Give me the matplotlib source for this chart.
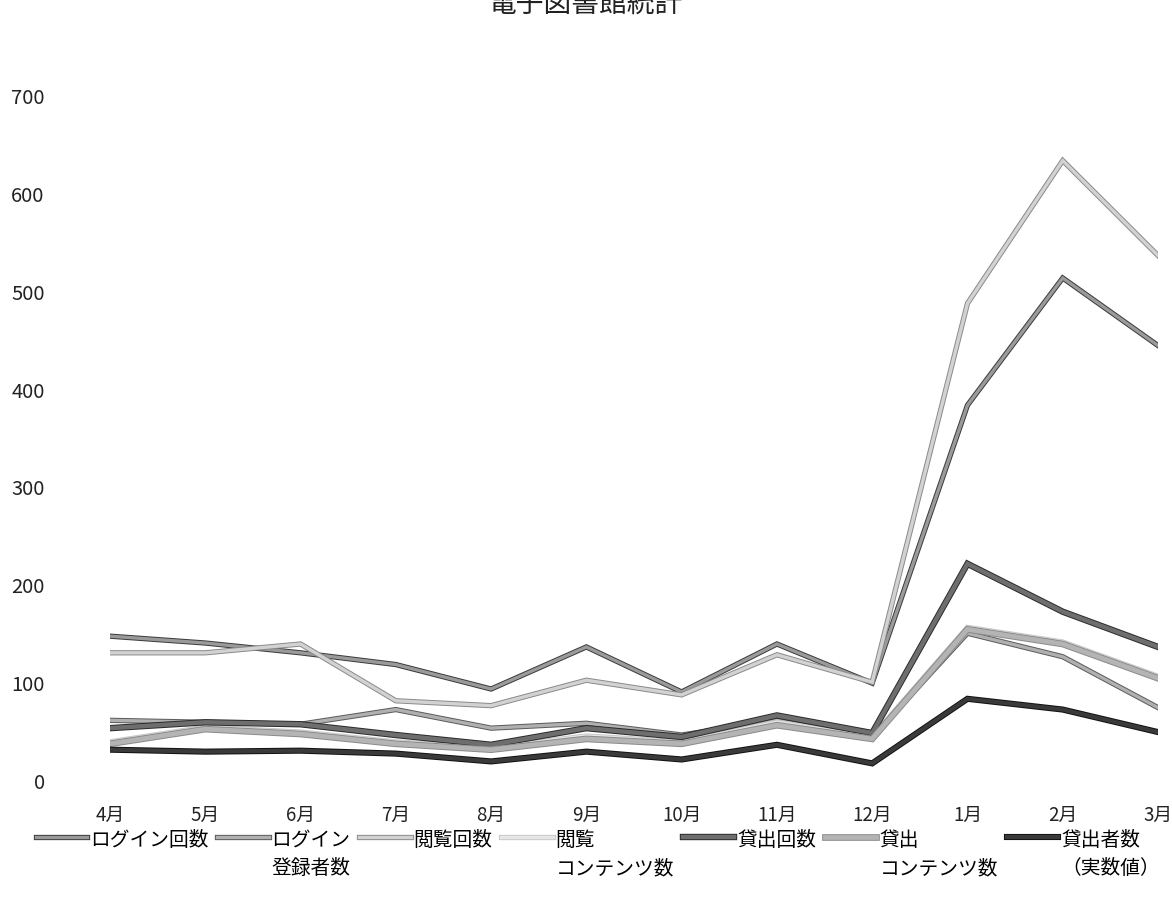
import matplotlib
matplotlib.use("Agg")
import matplotlib.pyplot as plt
import matplotlib.patheffects as pe

plt.rcParams['font.family'] = ['Noto Sans CJK JP', 'DejaVu Sans']

months = ['4月', '5月', '6月', '7月', '8月', '9月', '10月', '11月', '12月', '1月', '2月', '3月']
series_names = ['ログイン回数', 'ログイン\n登録者数', '閲覧回数', '閲覧\nコンテンツ数',
                '貸出回数', '貸出\nコンテンツ数', '貸出者数\n（実数値）']

login_count = [148, 141, 131, 119, 94, 137, 91, 140, 100, 384, 514, 445]
login_users = [62, 60, 58, 73, 54, 59, 47, 62, 45, 151, 127, 75]
view_count = [131, 131, 140, 82, 77, 103, 88, 129, 101, 488, 634, 537]
view_contents = [40, 55, 50, 40, 34, 46, 40, 60, 45, 157, 142, 107]
loan_count = [54, 60, 58, 47, 37, 54, 45, 67, 49, 222, 173, 137]
loan_contents = [38, 53, 48, 38, 32, 43, 38, 57, 43, 155, 140, 105]
borrowers = [32, 30, 31, 28, 20, 30, 22, 37, 18, 84, 73, 50]

yticks = [0, 100, 200, 300, 400, 500, 600, 700]

all_series = [login_count, login_users, view_count, view_contents,
              loan_count, loan_contents, borrowers]
styles = [
    dict(color='#9a9a9a', lw=2.4, edge='#3a3a3a'),
    dict(color='#b0b0b0', lw=2.4, edge='#5a5a5a'),
    dict(color='#d2d2d2', lw=2.4, edge='#8a8a8a'),
    dict(color='#e6e6e6', lw=2.4, edge='#c8c8c8'),
    dict(color='#6e6e6e', lw=3.2, edge='#2a2a2a'),
    dict(color='#b4b4b4', lw=3.4, edge='#8a8a8a'),
    dict(color='#3a3a3a', lw=3.0, edge='#111111'),
]

fig = plt.figure(figsize=(11.72, 9.06), dpi=100)
ax = fig.add_axes([110/1172, 1 - 781/906, (1158 - 110)/1172, (781 - 96)/906])

x = list(range(len(months)))
handles = []
for name, vals, st in zip(series_names, all_series, styles):
    ln, = ax.plot(x, vals, color=st['color'], lw=st['lw'], label=name,
                  solid_joinstyle='miter',
                  path_effects=[pe.Stroke(linewidth=st['lw'] + 1.4, foreground=st['edge']),
                                pe.Normal()])
    handles.append(ln)

ax.set_xlim(0, 11)
ax.set_ylim(0, 700)
ax.set_xticks(x)
ax.set_xticklabels(months, fontsize=13.5, color='#222222')
ax.set_yticks(yticks)
ax.set_yticklabels([str(v) for v in yticks], fontsize=14.5, color='#222222')
ax.tick_params(axis='both', length=0)
ax.tick_params(axis='y', pad=47)
ax.tick_params(axis='x', pad=17)
for s in ax.spines.values():
    s.set_visible(False)

fig.text(0.5, 1 - 4/906, '電子図書館統計', ha='center', va='center', fontsize=20, color='#222222')

leg = fig.legend(handles=handles, loc='upper center', bbox_to_anchor=(0.51, 1 - 812/906),
                 ncol=7, frameon=False, fontsize=14.2, handlelength=2.6, handletextpad=0.15,
                 columnspacing=0.45)
for t in leg.get_texts():
    t.set_linespacing(1.45)
# align handles with the first line of wrapped labels, and columns at their tops
leg._legend_handle_box.align = 'top'
for col in leg._legend_handle_box.get_children():
    col.align = 'left'
    for row in col.get_children():
        row.align = 'top'

fig.savefig('out.png', dpi=100, facecolor='white')
